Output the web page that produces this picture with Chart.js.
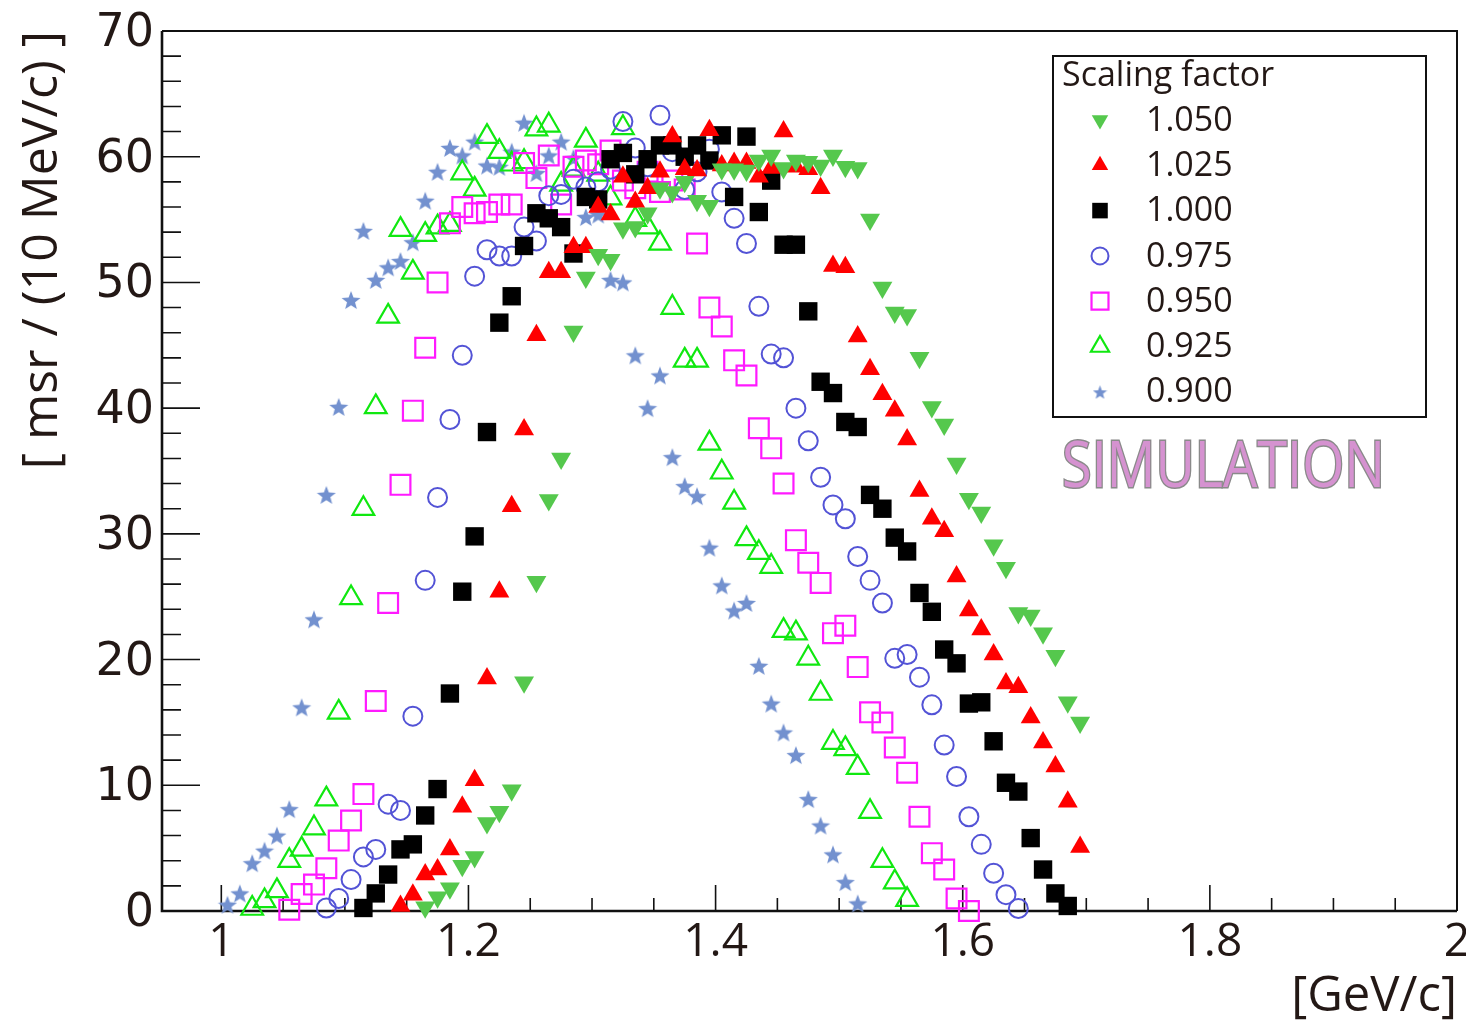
<!DOCTYPE html>
<html><head><meta charset="utf-8">
<script src="https://cdn.jsdelivr.net/npm/chart.js@4.4.1/dist/chart.umd.min.js"></script>
<style>html,body{margin:0;padding:0;background:#fff;}canvas{display:block;}</style>
</head><body>
<canvas id="c" width="1466" height="1022"></canvas>
<script>
// ---- data (10 MeV/c momentum bins) ----
const momentum = [
1.005,1.015,1.025,1.035,1.045,1.055,1.065,1.075,1.085,1.095,
1.105,1.115,1.125,1.135,1.145,1.155,1.165,1.175,1.185,1.195,
1.205,1.215,1.225,1.235,1.245,1.255,1.265,1.275,1.285,1.295,
1.305,1.315,1.325,1.335,1.345,1.355,1.365,1.375,1.385,1.395,
1.405,1.415,1.425,1.435,1.445,1.455,1.465,1.475,1.485,1.495,
1.505,1.515,1.525,1.535,1.545,1.555,1.565,1.575,1.585,1.595,
1.605,1.615,1.625,1.635,1.645,1.655,1.665,1.675,1.685,1.695];

const s1050 = [
null,null,null,null,null,null,null,null,null,null,
null,null,null,null,null,null,0.3,1.1,1.8,3.6,
4.3,7.0,7.9,9.6,18.2,26.2,32.7,36.0,46.1,50.4,
52.2,51.8,54.3,54.4,55.5,57.5,57.2,58.0,56.5,56.1,
59.0,59.0,58.9,59.7,60.1,59.1,59.7,59.6,59.3,60.1,
59.2,59.1,55.0,49.6,47.6,47.4,44.0,40.1,38.7,35.6,
32.8,31.7,29.1,27.3,23.7,23.5,22.1,20.3,16.6,15.0];

const s1025 = [
null,null,null,null,null,null,null,null,null,null,
null,null,null,null,0.4,1.3,2.9,3.3,4.9,8.3,
10.4,18.5,25.4,32.2,38.3,45.8,50.8,50.8,52.8,52.8,
56.0,55.4,58.4,56.4,57.5,58.8,61.6,59.0,58.9,62.1,
59.3,59.5,59.5,58.4,59.1,62.0,59.2,59.0,57.5,51.3,
51.2,45.7,43.1,41.1,39.8,37.5,33.4,31.2,30.2,26.6,
23.9,22.4,20.4,18.1,17.8,15.4,13.4,11.5,8.7,5.1];

const s1000 = [
null,null,null,null,null,null,null,null,null,null,
null,0.24,1.4,2.9,4.9,5.3,7.6,9.7,17.3,25.4,
29.8,38.1,46.8,48.9,52.9,55.5,55.1,54.4,52.3,56.8,
56.6,59.8,60.3,58.6,59.8,60.9,60.9,60.0,60.9,59.7,
61.7,56.8,61.6,55.6,58.1,53.0,53.0,47.7,42.1,41.2,
38.9,38.5,33.1,32.0,29.7,28.6,25.3,23.8,20.8,19.7,
16.5,16.6,13.5,10.2,9.5,5.8,3.3,1.4,0.4,null];

const s0975 = [
null,null,null,null,null,null,null,null,0.24,1.0,
2.5,4.3,4.9,8.5,8.0,15.5,26.3,32.9,39.1,44.2,
50.5,52.6,52.1,52.1,54.4,53.3,56.9,57.0,58.2,57.6,
58.0,59.0,62.8,60.7,59.2,63.3,60.4,57.4,58.8,60.6,
57.2,55.1,53.1,48.1,44.3,44.0,40.0,37.4,34.5,32.3,
31.2,28.2,26.3,24.5,20.1,20.4,18.6,16.4,13.2,10.7,
7.5,5.3,3.0,1.3,0.2,null,null,null,null,null];

const s0950 = [
null,null,null,null,null,0.1,1.35,2.1,3.4,5.6,
7.2,9.3,16.7,24.5,33.9,39.8,44.8,50.0,54.7,56.0,
55.5,55.6,56.2,56.2,59.5,58.3,60.1,56.2,59.2,59.7,
59.4,60.5,58.1,57.5,58.8,57.2,58.1,57.4,53.1,48.0,
46.5,43.8,42.6,38.4,36.8,34.0,29.5,27.7,26.1,22.1,
22.7,19.4,15.8,15.0,13.0,11.0,7.5,4.6,3.3,1.0,
0.0,null,null,null,null,null,null,null,null,null];

const s0925 = [
null,null,0.2,0.8,1.6,4.0,4.9,6.6,8.9,15.8,
24.9,32.0,40.1,47.3,54.2,50.8,53.8,54.4,54.6,58.7,
57.4,61.6,60.4,59.4,59.6,62.2,62.5,57.8,59.0,61.3,
58.6,56.7,62.3,55.0,54.4,53.1,48.0,43.8,43.8,37.2,
34.9,32.5,29.6,28.5,27.4,22.3,22.1,20.1,17.3,13.4,
12.9,11.4,7.9,4.0,2.3,0.9,null,null,null,null,
null,null,null,null,null,null,null,null,null,null];

const s0900 = [
0.5,1.4,3.8,4.8,6.0,8.1,16.2,23.2,33.1,40.1,
48.6,54.1,50.2,51.2,51.7,53.2,56.5,58.8,60.7,60.1,
61.2,59.3,59.2,60.4,62.7,58.7,60.1,61.2,59.9,55.2,
55.4,50.2,50.0,44.2,40.0,42.6,36.1,33.8,33.0,28.9,
25.9,23.9,24.5,19.5,16.5,14.2,12.4,8.9,6.8,4.5,
2.3,0.6,null,null,null,null,null,null,null,null,
null,null,null,null,null,null,null,null,null,null];

const seriesLabels = ['1.050','1.025','1.000','0.975','0.950','0.925','0.900'];
const seriesValues = [s1050, s1025, s1000, s0975, s0950, s0925, s0900];
const xTickValues = [1, 1.2, 1.4, 1.6, 1.8, 2];
const xTickLabels = ['1', '1.2', '1.4', '1.6', '1.8', '2'];
const yTickValues = [0, 10, 20, 30, 40, 50, 60, 70];
const yTickLabels = ['0', '10', '20', '30', '40', '50', '60', '70'];
const legendTitle = 'Scaling factor';
const xTitle = '[GeV/c]';
const yTitle = '[ msr / (10 MeV/c) ]';
const stampText = 'SIMULATION';

// ---- styles ----
function makeStar(size, color) {
  const c = document.createElement('canvas');
  c.width = c.height = size;
  const g = c.getContext('2d');
  const R = size / 2, r = R * 0.42;
  g.beginPath();
  for (let i = 0; i < 10; i++) {
    const a = -Math.PI / 2 + i * Math.PI / 5;
    const rr = (i % 2) ? r : R;
    g.lineTo(R + rr * Math.cos(a), R + 1 + rr * Math.sin(a));
  }
  g.closePath();
  g.fillStyle = color;
  g.fill();
  return c;
}
const starColor = '#7391cf';
const starBig = makeStar(20, starColor);
const starSmall = makeStar(15, starColor);
const none = 'rgba(0,0,0,0)';
const styles = [
  {ps: 'triangle', rot: 180, r: 11.5, bg: '#55c84d', bc: '#55c84d', bw: 0, lr: 9.5},
  {ps: 'triangle', rot: 0, r: 11.5, bg: '#ff0000', bc: '#ff0000', bw: 0, lr: 9.5},
  {ps: 'rect', rot: 0, r: 13, bg: '#000000', bc: '#000000', bw: 0, lr: 11},
  {ps: 'circle', rot: 0, r: 9.5, bg: none, bc: '#5353d6', bw: 2, lr: 8.5},
  {ps: 'rect', rot: 0, r: 14, bg: none, bc: '#ff1aff', bw: 2.2, lr: 12},
  {ps: 'triangle', rot: 0, r: 12.5, bg: none, bc: '#10e810', bw: 2.2, lr: 10.5},
  {ps: starBig, lps: starSmall, rot: 0, r: 10, bg: starColor, bc: starColor, bw: 0, lr: 8}
];

const textColor = '#231815';

function drawMarker(ctx, st, x, y) {
  const style = st.lps || st.ps;
  if (typeof style !== 'string') {
    ctx.drawImage(style, x - style.width / 2, y - style.height / 2);
    return;
  }
  ctx.save();
  ctx.fillStyle = st.bg;
  ctx.strokeStyle = st.bc;
  ctx.lineWidth = st.bw;
  if (Chart.helpers && Chart.helpers.drawPoint) {
    Chart.helpers.drawPoint(ctx, {pointStyle: style, radius: st.lr, rotation: st.rot, borderWidth: st.bw}, x, y);
  }
  ctx.restore();
}

const framePlugin = {
  id: 'frame',
  beforeDatasetsDraw(chart) {
    const {ctx, chartArea: a, scales: {x, y}} = chart;
    ctx.save();
    ctx.strokeStyle = '#111';
    ctx.lineWidth = 2;
    ctx.beginPath();
    ctx.moveTo(a.left, a.top); ctx.lineTo(a.right, a.top); ctx.lineTo(a.right, a.bottom);
    ctx.stroke();
    ctx.lineWidth = 2.6;
    ctx.beginPath();
    ctx.moveTo(a.left, a.top); ctx.lineTo(a.left, a.bottom); ctx.lineTo(a.right, a.bottom);
    ctx.stroke();
    ctx.lineWidth = 1.6;
    ctx.beginPath();
    for (let v = 0; v <= 70; v += 2) {
      const py = y.getPixelForValue(v);
      const len = (v % 10 === 0) ? 38 : 19;
      ctx.moveTo(a.left, py); ctx.lineTo(a.left + len, py);
    }
    for (let i = 0; i <= 20; i++) {
      const v = 1 + i * 0.05;
      const px = x.getPixelForValue(v);
      const len = (i % 4 === 0) ? 26 : 13;
      ctx.moveTo(px, a.bottom); ctx.lineTo(px, a.bottom - len);
    }
    ctx.stroke();
    ctx.restore();
  },
  afterDraw(chart) {
    const ctx = chart.ctx;
    ctx.save();
    // legend box
    const bx = 1053, by = 56, bw = 373, bh = 361;
    ctx.fillStyle = '#fff';
    ctx.fillRect(bx, by, bw, bh);
    ctx.strokeStyle = '#111';
    ctx.lineWidth = 2;
    ctx.strokeRect(bx, by, bw, bh);
    ctx.fillStyle = textColor;
    ctx.font = '34px "Open Sans", sans-serif';
    ctx.textAlign = 'left';
    ctx.textBaseline = 'alphabetic';
    ctx.fillText(legendTitle, 1062, 86);
    ctx.font = '34px "Open Sans", sans-serif';
    ctx.textBaseline = 'middle';
    for (let i = 0; i < seriesLabels.length; i++) {
      const yy = 120 + i * 45.3;
      drawMarker(ctx, styles[i], 1100, yy);
      ctx.fillStyle = textColor;
      ctx.fillText(seriesLabels[i], 1146, yy + 1);
    }
    // SIMULATION stamp
    ctx.font = '64px "Open Sans", sans-serif';
    ctx.textBaseline = 'alphabetic';
    ctx.lineWidth = 3;
    ctx.strokeStyle = '#8a8a8a';
    ctx.strokeText(stampText, 1062, 487, 323);
    ctx.fillStyle = '#d592d0';
    ctx.fillText(stampText, 1062, 487, 323);
    ctx.restore();
  }
};

function build() {
  const datasets = seriesValues.map((vals, i) => {
    const st = styles[i];
    return {
      label: seriesLabels[i],
      data: momentum.map((p, k) => ({x: p, y: vals[k]})).filter(d => d.y !== null),
      showLine: false,
      pointStyle: st.ps,
      pointRadius: st.r,
      pointRotation: st.rot,
      pointBackgroundColor: st.bg,
      pointBorderColor: st.bc,
      pointBorderWidth: st.bw,
      clip: false
    };
  });

  new Chart(document.getElementById('c'), {
    type: 'scatter',
    data: {datasets},
    options: {
      responsive: false,
      animation: false,
      devicePixelRatio: 1,
      events: [],
      layout: {autoPadding: false, padding: {top: 31, right: 9, left: 0, bottom: 0}},
      plugins: {legend: {display: false}, tooltip: {enabled: false}},
      scales: {
        x: {
          type: 'linear', min: 0.952, max: 2.0,
          grid: {display: false, drawTicks: false},
          border: {display: false},
          afterBuildTicks: (s) => { s.ticks = xTickValues.map(v => ({value: v})); },
          afterFit: (s) => { s.height = 111; s.paddingLeft = 0; s.paddingRight = 0; },
          ticks: {
            padding: 4, color: textColor, maxRotation: 0, autoSkip: false,
            font: {family: '"Open Sans", sans-serif', size: 46},
            callback: (v) => { const i = xTickValues.indexOf(v); return i >= 0 ? xTickLabels[i] : ''; }
          },
          title: {
            display: true, text: xTitle, align: 'end', color: textColor,
            font: {family: '"Open Sans", sans-serif', size: 49, lineHeight: 1},
            padding: {top: 0, bottom: 0}
          }
        },
        y: {
          type: 'linear', min: 0, max: 70,
          grid: {display: false, drawTicks: false},
          border: {display: false},
          afterBuildTicks: (s) => { s.ticks = yTickValues.map(v => ({value: v})); },
          afterFit: (s) => { s.width = 162; s.paddingTop = 0; s.paddingBottom = 0; },
          ticks: {
            padding: 8, color: textColor, autoSkip: false, labelOffset: 3,
            font: {family: '"DejaVu Sans", sans-serif', size: 46},
            callback: (v) => { const i = yTickValues.indexOf(v); return i >= 0 ? yTickLabels[i] : ''; }
          },
          title: {
            display: true, text: yTitle, align: 'end', color: textColor,
            font: {family: '"Open Sans", sans-serif', size: 50, lineHeight: 1},
            padding: {top: 18, bottom: 0}
          }
        }
      }
    },
    plugins: [framePlugin]
  });
}

const fontLoads = ['48px "Open Sans"', '46px "DejaVu Sans"'].map(f => document.fonts ? document.fonts.load(f).catch(() => null) : null);
Promise.all(fontLoads).then(build, build);
</script>
</body></html>
